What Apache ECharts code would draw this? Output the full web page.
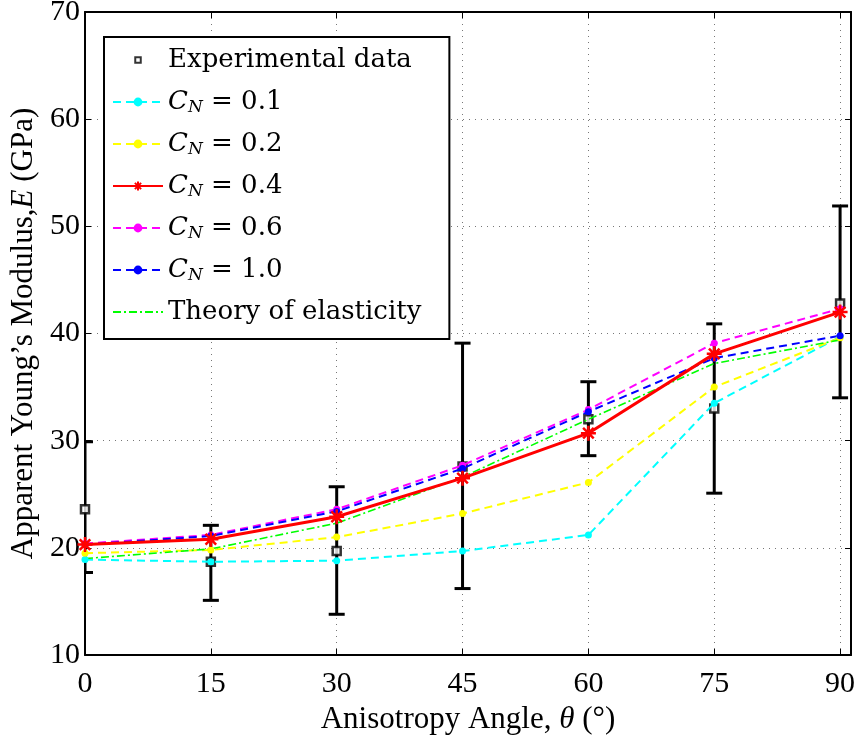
<!DOCTYPE html>
<html><head><meta charset="utf-8">
<script src="https://cdn.jsdelivr.net/npm/echarts@6/dist/echarts.min.js"></script>
<style>html,body{margin:0;padding:0;background:#fff}#c{width:858px;height:743px}</style>
</head><body><div id="c"></div>
<script>
// ---- data ----
const angles = [0, 15, 30, 45, 60, 75, 90];
const expMean = [23.6, 18.7, 19.7, 27.6, 32.0, 33.0, 42.8];
const expLow = [17.7, 15.1, 13.8, 16.2, 28.6, 25.1, 34.0];
const expHigh = [29.9, 22.1, 25.7, 39.1, 35.5, 40.9, 51.9];
const cn01 = [18.9, 18.7, 18.8, 19.7, 21.2, 33.5, 39.7];
const cn02 = [19.5, 19.8, 21.0, 23.2, 26.1, 35.0, 39.6];
const cn04 = [20.3, 20.8, 22.9, 26.5, 30.7, 38.1, 42.0];
const cn06 = [20.4, 21.2, 23.6, 27.7, 32.9, 39.1, 42.3];
const cn10 = [20.3, 21.1, 23.4, 27.4, 32.7, 37.7, 39.8];
const theory = [19.0, 19.9, 22.3, 26.6, 32.0, 37.2, 39.4];
const xTicks = [0, 15, 30, 45, 60, 75, 90];
const yTicks = [10, 20, 30, 40, 50, 60, 70];
const legendNames = ['Experimental data', 'CN=0.1', 'CN=0.2', 'CN=0.4', 'CN=0.6', 'CN=1.0', 'Theory of elasticity'];

const pairs = arr => angles.map((a, i) => [a, arr[i]]);
const serif = 'Liberation Serif';
const lgFont = 'DejaVu Serif';

const chart = echarts.init(document.getElementById('c'), null, {renderer: 'canvas'});
const asterisk = 'path://M0,-10L0,10M-10,0L10,0M-7.07,-7.07L7.07,7.07M-7.07,7.07L7.07,-7.07';

function lineSeries(name, data, color, opts) {
  return Object.assign({
    type: 'line', name, data: pairs(data),
    xAxisIndex: 0, yAxisIndex: 0,
    symbol: 'circle', symbolSize: 7, showAllSymbol: true,
    lineStyle: {color, width: 2, type: [8, 5]},
    itemStyle: {color},
    emphasis: {disabled: true}, silent: true
  }, opts || {});
}

const option = {
  animation: false,
  grid: {left: 85, right: 7, top: 12, bottom: 88, containLabel: false, outerBoundsMode: 'none'},
  xAxis: [{
    type: 'value', min: 0, max: 91.3, interval: 15, position: 'bottom',
    axisLine: {show: true, onZero: false, lineStyle: {color: '#000', width: 2}},
    axisTick: {show: true, inside: true, length: 6, lineStyle: {color: '#000', width: 1}},
    axisLabel: {
      color: '#000', fontFamily: serif, fontSize: 30, margin: 14, showMaxLabel: true,
      formatter: v => xTicks.indexOf(v) >= 0 ? String(v) : ''
    },
    splitLine: {show: true, lineStyle: {color: '#777', width: 1, type: [1, 5]}},
    name: 'Anisotropy Angle, {i|θ} (°)', nameLocation: 'middle', nameGap: 46,
    nameTextStyle: {color: '#000', fontFamily: serif, fontSize: 31,
      rich: {i: {fontFamily: serif, fontSize: 31, fontStyle: 'italic', color: '#000'}}}
  }, {
    type: 'value', min: 0, max: 91.3, interval: 15, position: 'top',
    axisLine: {show: true, onZero: false, lineStyle: {color: '#000', width: 2}},
    axisTick: {show: true, inside: true, length: 6, lineStyle: {color: '#000', width: 1}},
    axisLabel: {show: false}, splitLine: {show: false}
  }],
  yAxis: [{
    type: 'value', min: 10, max: 70, interval: 10, position: 'left',
    axisLine: {show: true, onZero: false, lineStyle: {color: '#000', width: 2}},
    axisTick: {show: true, inside: true, length: 6, lineStyle: {color: '#000', width: 1}},
    axisLabel: {color: '#000', fontFamily: serif, fontSize: 30, margin: 5,
      formatter: v => yTicks.indexOf(v) >= 0 ? String(v) : ''},
    splitLine: {show: true, lineStyle: {color: '#777', width: 1, type: [1, 5]}},
    name: 'Apparent Young’s Modulus,{i|E} (GPa)', nameLocation: 'middle', nameGap: 30,
    nameTextStyle: {color: '#000', fontFamily: serif, fontSize: 31,
      rich: {i: {fontFamily: serif, fontSize: 31, fontStyle: 'italic', color: '#000'}}}
  }, {
    type: 'value', min: 10, max: 70, interval: 10, position: 'right',
    axisLine: {show: true, onZero: false, lineStyle: {color: '#000', width: 2}},
    axisTick: {show: true, inside: true, length: 6, lineStyle: {color: '#000', width: 1}},
    axisLabel: {show: false}, splitLine: {show: false}
  }],
  legend: {
    orient: 'vertical', left: 104, top: 37,
    data: [
      {name: 'Experimental data', icon: 'path://M0,0M12,12M3,3L9,3L9,9L3,9Z'},
      'CN=0.1', 'CN=0.2', 'CN=0.4', 'CN=0.6', 'CN=1.0',
      {name: 'Theory of elasticity', itemStyle: {color: 'rgba(0,0,0,0)', borderColor: 'rgba(0,0,0,0)', borderWidth: 0, opacity: 0}}
    ],
    itemWidth: 50, itemHeight: 11, itemGap: 14,
    padding: [9, 28, 13, 8],
    backgroundColor: '#fff', borderColor: '#000', borderWidth: 2, borderRadius: 0,
    selectedMode: false, symbolKeepAspect: true,
    textStyle: {
      color: '#000', fontFamily: lgFont, fontSize: 26, lineHeight: 28,
      rich: {
        t: {fontFamily: lgFont, fontSize: 26, lineHeight: 28, color: '#000'},
        i: {fontFamily: lgFont, fontSize: 26, lineHeight: 28, fontStyle: 'italic', color: '#000'},
        s: {fontFamily: lgFont, fontSize: 17, lineHeight: 16, fontStyle: 'italic', verticalAlign: 'bottom', color: '#000'}
      }
    },
    formatter: name => {
      if (name.indexOf('CN=') === 0) return '{i|C}{s|N}{t| = ' + name.slice(3) + '}';
      return '{t|' + name + '}';
    }
  },
  series: [
    {
      type: 'custom', name: 'errorbars', xAxisIndex: 0, yAxisIndex: 0, clip: true, silent: true,
      data: angles.map((a, i) => [a, expLow[i], expHigh[i]]),
      encode: {x: 0, y: [1, 2]},
      renderItem: (params, api) => {
        const lo = api.coord([api.value(0), api.value(1)]);
        const hi = api.coord([api.value(0), api.value(2)]);
        const hw = 8;
        const st = {stroke: '#000', lineWidth: 3, fill: null};
        return {type: 'group', children: [
          {type: 'line', shape: {x1: lo[0], y1: lo[1], x2: hi[0], y2: hi[1]}, style: st},
          {type: 'line', shape: {x1: lo[0] - hw, y1: lo[1], x2: lo[0] + hw, y2: lo[1]}, style: st},
          {type: 'line', shape: {x1: hi[0] - hw, y1: hi[1], x2: hi[0] + hw, y2: hi[1]}, style: st}
        ]};
      }
    },
    {
      type: 'scatter', name: 'Experimental data', data: pairs(expMean),
      xAxisIndex: 0, yAxisIndex: 0,
      symbol: 'rect', symbolSize: 8,
      itemStyle: {color: '#fff', borderColor: '#000', borderWidth: 2.5},
      emphasis: {disabled: true}, silent: true
    },
    lineSeries('CN=0.1', cn01, '#00ffff'),
    lineSeries('CN=0.2', cn02, '#ffff00'),
    lineSeries('CN=0.6', cn06, '#ff00ff'),
    lineSeries('CN=1.0', cn10, '#0000ff'),
    lineSeries('Theory of elasticity', theory, '#00ff00', {
      symbol: 'none', lineStyle: {color: '#00ff00', width: 1.6, type: [8, 3, 2, 3]}
    }),
    lineSeries('CN=0.4', cn04, '#ff0000', {
      symbol: asterisk, symbolSize: 15, symbolKeepAspect: true,
      lineStyle: {color: '#ff0000', width: 3, type: 'solid'},
      itemStyle: {color: '#ff0000', borderColor: '#ff0000', borderWidth: 2.5}
    })
  ]
};
chart.setOption(option);
</script>
</body></html>
